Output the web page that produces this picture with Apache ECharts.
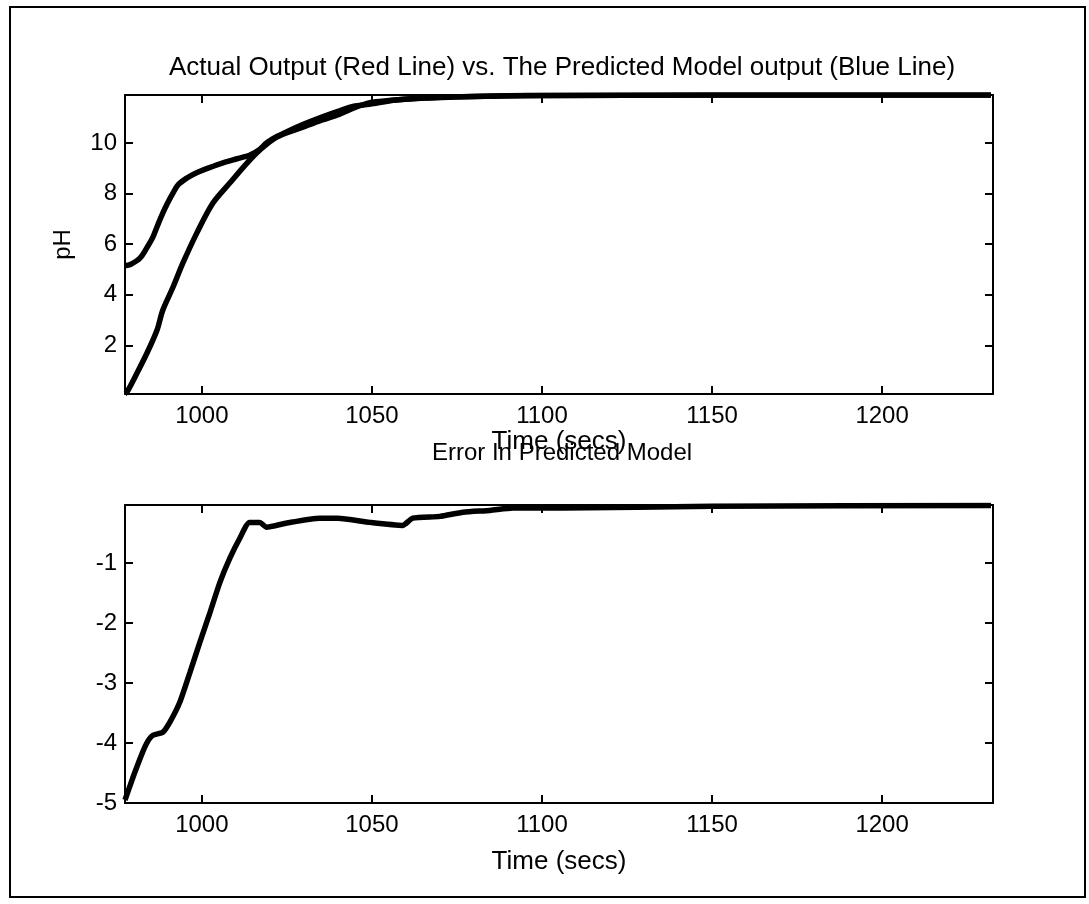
<!DOCTYPE html>
<html>
<head>
<meta charset="utf-8">
<title>pH model</title>
<script src="https://cdn.jsdelivr.net/npm/echarts@6/dist/echarts.min.js"></script>
<style>
    html, body { margin: 0; padding: 0; background: #fff; }
    #chart { width: 1089px; height: 904px; }
</style>
</head>
<body>
<div id="chart"></div>
<script>
    // upper curve at start (starts near pH 5)
    const timeModel = [977.4, 979, 981.8, 984, 985.6, 987, 988.5, 990, 991.5, 993, 995.6, 998, 1000.3, 1005.3, 1010.3, 1014, 1017, 1019, 1022, 1025, 1030, 1034.7, 1040, 1044.4, 1050, 1057, 1065, 1074, 1087, 1100, 1150, 1232]
    const phModel = [5.15, 5.2, 5.45, 5.9, 6.28, 6.75, 7.23, 7.65, 8.02, 8.35, 8.62, 8.8, 8.93, 9.18, 9.38, 9.52, 9.75, 10.0, 10.25, 10.45, 10.75, 11.0, 11.25, 11.45, 11.55, 11.7, 11.78, 11.82, 11.86, 11.88, 11.9, 11.9]
    // lower curve at start (starts near pH 0)
    const timeActual = [977.4, 978, 980.9, 983.8, 986.8, 988.5, 991.5, 994.4, 998.5, 1003.2, 1008.2, 1013.2, 1017, 1022, 1029.7, 1034, 1039.7, 1044, 1049.4, 1055, 1062, 1075, 1090, 1100, 1150, 1232]
    const phActual = [0.1, 0.16, 0.9, 1.68, 2.6, 3.39, 4.3, 5.25, 6.44, 7.62, 8.42, 9.2, 9.72, 10.24, 10.63, 10.85, 11.1, 11.35, 11.6, 11.68, 11.75, 11.83, 11.87, 11.88, 11.9, 11.9]
    // error in predicted model
    const timeError = [977.4, 979.7, 982.6, 984, 985.6, 988.5, 990.6, 993.5, 996.5, 999.4, 1002.4, 1005.3, 1008.2, 1011.2, 1014, 1017, 1019, 1025, 1034.7, 1040, 1049.4, 1059, 1062, 1070, 1076.8, 1084.7, 1091.5, 1106, 1150, 1232]
    const errValues = [-4.95, -4.58, -4.15, -3.98, -3.87, -3.82, -3.65, -3.32, -2.82, -2.32, -1.82, -1.32, -0.92, -0.58, -0.32, -0.32, -0.4, -0.33, -0.25, -0.25, -0.32, -0.37, -0.25, -0.22, -0.15, -0.12, -0.08, -0.08, -0.05, -0.04]

    const timeTicks = [1000, 1050, 1100, 1150, 1200]
    const phTicks = [2, 4, 6, 8, 10]
    const errTicks = [-5, -4, -3, -2, -1]

    const zip = (xs, ys) => xs.map((x, i) => [x, ys[i]])

    const font = 'Liberation Sans, Arial, sans-serif'
    const black = '#000'

    function xAxisFor(gridIndex, pos, showLabels) {
        return {
            type: 'value',
            gridIndex: gridIndex,
            position: pos,
            min: 977.4,
            max: 1232.6,
            name: showLabels ? 'Time (secs)' : '',
            nameLocation: 'middle',
            nameGap: gridIndex === 0 ? 22 : 46,
            nameTextStyle: { color: black, fontSize: 26, fontFamily: font },
            axisLine: { show: true, onZero: false, lineStyle: { color: black, width: 2 } },
            axisTick: { show: true, inside: true, length: 8, customValues: timeTicks, lineStyle: { color: black, width: 2 } },
            axisLabel: {
                show: showLabels, customValues: timeTicks, margin: 10,
                color: black, fontSize: 24, fontFamily: font,
                formatter: v => String(v)
            },
            splitLine: { show: false }
        }
    }

    function yAxisFor(gridIndex, pos, showLabels, range, ticks, name) {
        return {
            type: 'value',
            gridIndex: gridIndex,
            position: pos,
            min: range[0],
            max: range[1],
            name: name,
            nameLocation: 'middle',
            nameGap: 50,
            nameTextStyle: { color: black, fontSize: 24, fontFamily: font },
            axisLine: { show: true, onZero: false, lineStyle: { color: black, width: 2 } },
            axisTick: { show: true, inside: true, length: 8, customValues: ticks, lineStyle: { color: black, width: 2 } },
            axisLabel: {
                show: showLabels, customValues: ticks, margin: 8,
                color: black, fontSize: 24, fontFamily: font,
                formatter: v => String(v)
            },
            splitLine: { show: false }
        }
    }

    let myChart = echarts.init(document.getElementById('chart'), null, { renderer: 'canvas' })

    let option = {
        backgroundColor: '#fff',
        animation: false,
        title: [
            {
                text: 'Actual Output (Red Line) vs. The Predicted Model output (Blue Line)',
                left: 557, top: 50, textAlign: 'center',
                textStyle: { color: black, fontSize: 26, fontWeight: 'normal', fontFamily: font }
            },
            {
                text: 'Error In Predicted Model',
                left: 557, top: 436, textAlign: 'center',
                textStyle: { color: black, fontSize: 24, fontWeight: 'normal', fontFamily: font }
            }
        ],
        grid: [
            { left: 125, right: 96, top: 95, height: 299 },
            { left: 125, right: 96, top: 505, height: 298 }
        ],
        xAxis: [
            xAxisFor(0, 'bottom', true),
            xAxisFor(0, 'top', false),
            xAxisFor(1, 'bottom', true),
            xAxisFor(1, 'top', false)
        ],
        yAxis: [
            yAxisFor(0, 'left', true, [0.08, 11.9], phTicks, 'pH'),
            yAxisFor(0, 'right', false, [0.08, 11.9], phTicks, ''),
            yAxisFor(1, 'left', true, [-5, -0.03], errTicks, ''),
            yAxisFor(1, 'right', false, [-5, -0.03], errTicks, '')
        ],
        series: [
            {
                name: 'Predicted Model',
                type: 'line', xAxisIndex: 0, yAxisIndex: 0,
                showSymbol: false, smooth: 0.3, clip: true,
                lineStyle: { color: black, width: 5.5 },
                data: zip(timeModel, phModel)
            },
            {
                name: 'Actual Output',
                type: 'line', xAxisIndex: 0, yAxisIndex: 0,
                showSymbol: false, smooth: 0.3, clip: true,
                lineStyle: { color: black, width: 5.5 },
                data: zip(timeActual, phActual)
            },
            {
                name: 'Error',
                type: 'line', xAxisIndex: 2, yAxisIndex: 2,
                showSymbol: false, smooth: 0.2, clip: true,
                lineStyle: { color: black, width: 5.5 },
                data: zip(timeError, errValues)
            }
        ],
        graphic: [
            {
                type: 'rect',
                shape: { x: 10, y: 7, width: 1075, height: 890 },
                style: { fill: null, stroke: black, lineWidth: 2 },
                silent: true
            }
        ]
    }

    myChart.setOption(option)
</script>
</body>
</html>
